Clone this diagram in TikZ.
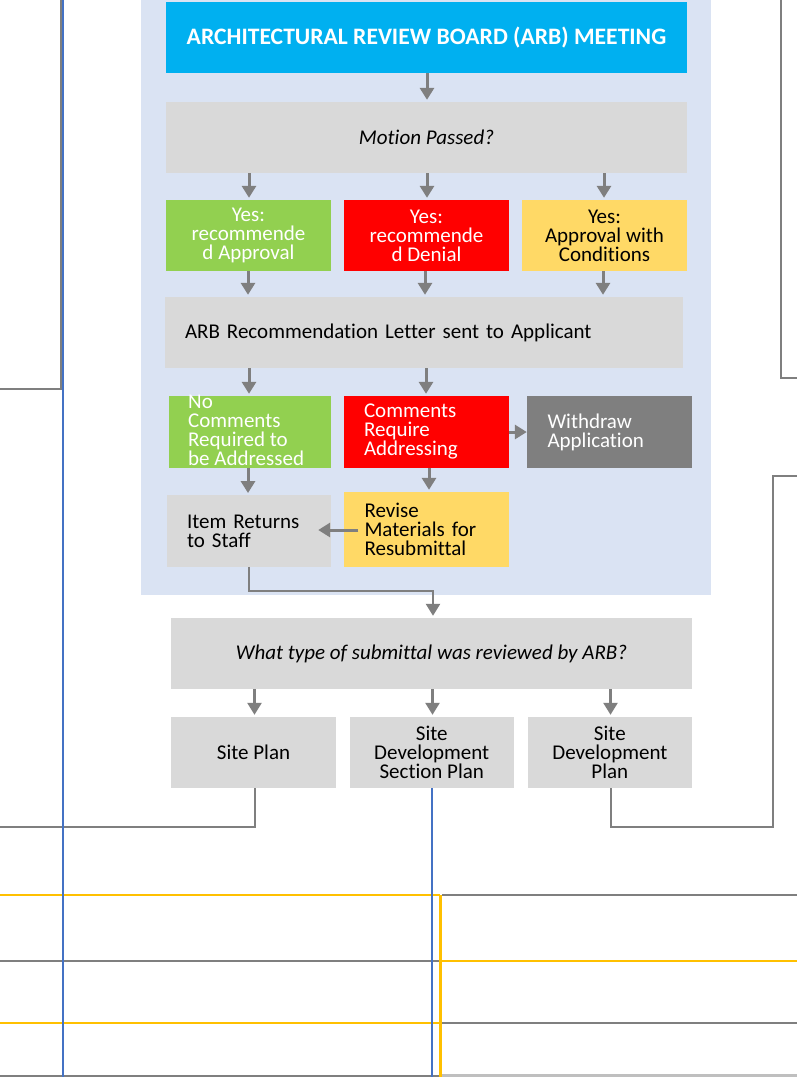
\documentclass[tikz,border=0pt]{standalone}
\usepackage{fontspec}
\setmainfont[Ligatures=NoCommon]{Carlito}
\usetikzlibrary{arrows.meta}
\definecolor{panel}{HTML}{DAE3F3}
\definecolor{arbblue}{HTML}{00B0F0}
\definecolor{boxgray}{HTML}{D9D9D9}
\definecolor{dkgray}{HTML}{7F7F7F}
\definecolor{okgreen}{HTML}{92D050}
\definecolor{nored}{HTML}{FF0000}
\definecolor{condyel}{HTML}{FFD966}
\definecolor{lineblue}{HTML}{4472C4}
\definecolor{lineyel}{HTML}{FFC000}
\begin{document}
\begin{tikzpicture}[x=1pt,y=-1pt,
  every node/.style={font=\fontsize{21}{19}\selectfont},
  box/.style={rectangle, inner sep=0pt, minimum height=71pt},
  cbox/.style={box, align=center},
  lbox/.style={box, align=left, text width=#1},
  arr/.style={draw=dkgray, line width=3pt, -{Triangle[width=14pt,length=12pt]}, shorten >=2pt},
  conn/.style={draw=dkgray, line width=2pt},
  blueline/.style={draw=lineblue, line width=2pt},
  yelline/.style={draw=lineyel, line width=2.5pt},
  grayline/.style={draw=dkgray, line width=2.2pt}
]
\useasboundingbox (0,0) rectangle (797,1077);
\fill[white] (0,0) rectangle (797,1077);
% panel
\fill[panel] (141,0) rectangle (711,595);

% boxes
\node[cbox, fill=arbblue, text=white, minimum width=521pt, font=\fontsize{23.6}{24}\selectfont\bfseries] (title) at (426.5,37.5) {ARCHITECTURAL REVIEW BOARD (ARB) MEETING};
\node[cbox, fill=boxgray, minimum width=521pt, font=\fontsize{21}{19}\selectfont\itshape] (motion) at (426.5,137.5) {Motion Passed?};
\node[cbox, fill=okgreen, text=white, minimum width=165pt] (yesA) at (248.5,235.5) {Yes:\\recommende\\d Approval};
\node[cbox, fill=nored, text=white, minimum width=165pt] (yesD) at (426.5,235.5) {Yes:\\recommende\\d Denial};
\node[cbox, fill=condyel, minimum width=165pt] (yesC) at (604.5,235.5) {Yes:\\Approval with\\Conditions};
\node[lbox=478pt, fill=boxgray, inner xsep=20pt] (letter) at (424,332.5) {ARB Recommendation Letter sent to Applicant};

\node[box, fill=okgreen, minimum width=162pt, minimum height=71.5pt] (nocom) at (250,431.75) {};
\node[align=left, text=white, inner sep=0pt, anchor=west] (nocomtxt) at (188,430.5) {No\\Comments\\Required to\\be Addressed};
\node[lbox=124.5pt, fill=nored, text=white, inner xsep=20pt, minimum height=71.5pt] (comreq) at (426.25,431.75) {Comments\\Require\\Addressing};
\node[lbox=124pt, fill=dkgray, text=white, inner xsep=20.5pt, minimum height=72pt] (withdraw) at (609.5,432) {Withdraw\\Application};
\node[lbox=124pt, fill=boxgray, inner xsep=20pt, minimum height=71.5pt] (item) at (249,531) {Item Returns\\to Staff};
\node[lbox=123.5pt, fill=condyel, inner xsep=20.5pt, minimum height=75pt] (revise) at (426.25,529.5) {Revise\\Materials for\\Resubmittal};

\node[cbox, fill=boxgray, minimum width=521pt, font=\fontsize{21}{19}\selectfont\itshape] (what) at (431.5,653.5) {What type of submittal was reviewed by ARB?};
\node[cbox, fill=boxgray, minimum width=165pt] (siteplan) at (253.5,752.5) {Site Plan};
\node[cbox, fill=boxgray, minimum width=164.5pt] (sdsp) at (431.75,752.5) {Site\\Development\\Section Plan};
\node[cbox, fill=boxgray, minimum width=164.3pt] (sdp) at (609.85,752.5) {Site\\Development\\Plan};

% arrows inside panel
\draw[arr] (title.south -| 427,0) -- (motion.north -| 427,0);
\draw[arr] (motion.south -| 249,0) -- (yesA.north -| 249,0);
\draw[arr] (motion.south -| 427,0) -- (yesD.north -| 427,0);
\draw[arr] (motion.south -| 604,0) -- (yesC.north -| 604,0);
\draw[arr] (yesA.south -| 248,0) -- (letter.north -| 248,0);
\draw[arr] (yesD.south -| 425,0) -- (letter.north -| 425,0);
\draw[arr] (yesC.south -| 603,0) -- (letter.north -| 603,0);
\draw[arr] (letter.south -| 249,0) -- (nocom.north -| 249,0);
\draw[arr] (letter.south -| 426,0) -- (comreq.north -| 426,0);
\draw[arr] (nocom.south -| 248,0) -- (item.north -| 248,0);
\draw[arr] (comreq.south -| 429,0) -- (revise.north -| 429,0);
\draw[arr, shorten >=0pt] (comreq.east |- 0,432) -- (withdraw.west |- 0,432);
\draw[arr, shorten >=0pt] ([xshift=14.5pt]revise.west |- 0,530) -- ([xshift=-13pt]item.east |- 0,530);
\draw[arr, line width=2.5pt] (item.south) -- (249,591) -| (what.north -| 433,0);
\draw[arr, line width=2.5pt] (what.south -| 254.5,0) -- (siteplan.north -| 254.5,0);
\draw[arr, line width=2.5pt] (what.south -| 432.5,0) -- (sdsp.north -| 432.5,0);
\draw[arr, line width=2.5pt] (what.south -| 610.5,0) -- (sdp.north -| 610.5,0);

% outgoing connectors
\coordinate (spEnd) at (0,827);
\coordinate (sdpEnd) at (797,476);
\coordinate (sdspEnd) at (432,1077);
\draw[conn] (siteplan.south -| 254.5,0) |- (spEnd);
\draw[conn] (sdp.south -| 610.5,0) -- (610.5,827) -- (773,827) -- (773,476) -- (sdpEnd);
\draw[conn] (780.5,0) -- (780.5,378) -- (797,378);
\draw[conn, line width=1.6pt] (61,0) -- (61,389) -- (0,389);

% bottom lines
\draw[grayline] (0,961) -- (440,961);
\draw[grayline] (442,895) -- (797,895);
\draw[grayline] (440,1023) -- (797,1023);
\draw[grayline] (0,1076) -- (440,1076);
\draw[grayline, draw=dkgray!50] (440,1075.5) -- (797,1075.5);
\draw[yelline] (0,895) -- (440,895);
\draw[yelline] (0,1023) -- (440,1023);
\draw[yelline] (440,961) -- (797,961);
\draw[yelline] (440.5,895) -- (440.5,1077);
% blue lines
\draw[blueline] (63,0) -- (63,1077);
\draw[blueline] (sdsp.south -| 432,0) -- (sdspEnd);
\end{tikzpicture}
\end{document}
